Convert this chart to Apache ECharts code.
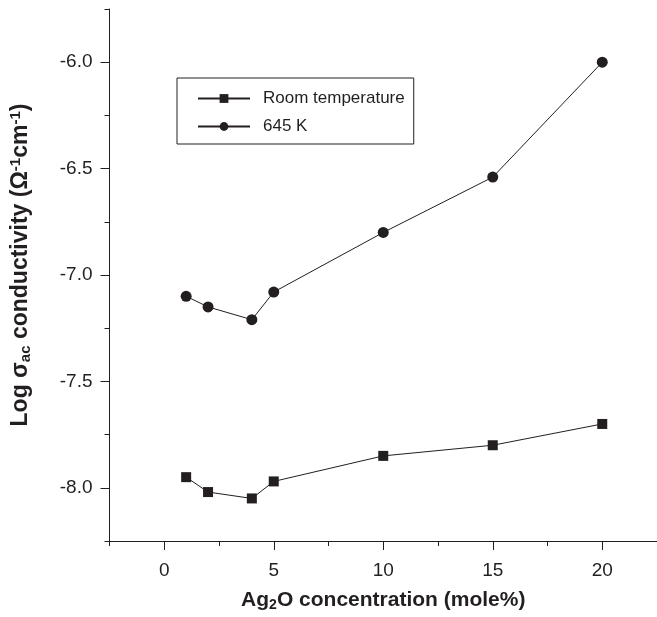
<!DOCTYPE html>
<html>
<head>
<meta charset="utf-8">
<script src="https://cdn.jsdelivr.net/npm/echarts@6/dist/echarts.min.js"></script>
<style>
html,body{margin:0;padding:0;background:#fff;}
#chart{width:657px;height:617px;}
</style>
</head>
<body>
<div id="chart"></div>
<script>
// Data
var concentration = [1, 2, 4, 5, 10, 15, 20];
var roomTemp = [-7.95, -8.02, -8.05, -7.97, -7.85, -7.80, -7.70];
var k645 = [-7.10, -7.15, -7.21, -7.08, -6.80, -6.54, -6.00];
var seriesNames = ['Room temperature', '645 K'];
var xMajorTicks = [0, 5, 10, 15, 20];
var xMinorTicks = [-2.5, 2.5, 7.5, 12.5, 17.5, 22.5];
var yMajorTicks = [-8.0, -7.5, -7.0, -6.5, -6.0];
var yMinorTicks = [-8.25, -7.75, -7.25, -6.75, -6.25, -5.75];

function pairs(xs, ys) { return xs.map(function (x, i) { return [x, ys[i]]; }); }

var FONT = '"Liberation Sans", Arial, Helvetica, sans-serif';
var INK = '#231f20';

var chart = echarts.init(document.getElementById('chart'), null, {renderer: 'canvas'});
var option = {
  backgroundColor: '#fff',
  animation: false,
  textStyle: {fontFamily: FONT, color: INK},
  grid: {left: 109, top: 9, right: -1, bottom: 74, containLabel: false},
  legend: {
    orient: 'vertical',
    left: 177, top: 78,
    padding: [12, 9, 9, 20],
    borderColor: INK, borderWidth: 1,
    itemWidth: 52, itemHeight: 11, itemGap: 11,
    textStyle: {fontSize: 17, color: INK, fontFamily: FONT, padding: [0, 0, 0, 8]},
    data: seriesNames
  },
  xAxis: [{
    type: 'value', min: -2.5, max: 22.5, position: 'bottom',
    name: '{a|Ag}{s|2}{a|O concentration (mole%)}',
    nameLocation: 'middle', nameGap: 47,
    nameTextStyle: {
      fontSize: 21, fontWeight: 'bold', color: INK, fontFamily: FONT,
      rich: {
        a: {fontSize: 21, fontWeight: 'bold', color: INK, fontFamily: FONT},
        s: {fontSize: 14, fontWeight: 'bold', color: INK, fontFamily: FONT, padding: [10, 0, 0, 0]}
      }
    },
    axisLine: {show: true, onZero: false, lineStyle: {color: INK, width: 1}},
    axisTick: {show: true, customValues: xMajorTicks, length: 9, lineStyle: {color: INK}},
    axisLabel: {show: true, customValues: xMajorTicks, margin: 20, fontSize: 19, color: INK, fontFamily: FONT},
    splitLine: {show: false}
  }, {
    type: 'value', min: -2.5, max: 22.5, position: 'bottom', gridIndex: 0,
    axisLine: {show: false, onZero: false},
    axisTick: {show: true, customValues: xMinorTicks, length: 5, lineStyle: {color: INK}},
    axisLabel: {show: false},
    splitLine: {show: false}
  }],
  yAxis: [{
    type: 'value', min: -8.25, max: -5.75, position: 'left',
    name: '{a|Log σ}{s|ac}{a| conductivity (Ω}{p|-1}{a|cm}{p|-1}{a|)}',
    nameLocation: 'middle', nameGap: 76, nameRotate: 90,
    nameTextStyle: {
      fontSize: 23, fontWeight: 'bold', color: INK, fontFamily: FONT,
      padding: [0, 0, 0, 20],
      rich: {
        a: {fontSize: 23, fontWeight: 'bold', color: INK, fontFamily: FONT},
        s: {fontSize: 15, fontWeight: 'bold', color: INK, fontFamily: FONT, padding: [11, 0, 0, 0]},
        p: {fontSize: 15, fontWeight: 'bold', color: INK, fontFamily: FONT, padding: [0, 0, 10, 0]}
      }
    },
    axisLine: {show: true, onZero: false, lineStyle: {color: INK, width: 1}},
    axisTick: {show: true, customValues: yMajorTicks, length: 9, lineStyle: {color: INK}},
    axisLabel: {
      show: true, customValues: yMajorTicks, margin: 17, fontSize: 19, color: INK, fontFamily: FONT,
      formatter: function (v) { return v.toFixed(1); }
    },
    splitLine: {show: false}
  }, {
    type: 'value', min: -8.25, max: -5.75, position: 'left', gridIndex: 0,
    axisLine: {show: false, onZero: false},
    axisTick: {show: true, customValues: yMinorTicks, length: 5, lineStyle: {color: INK}},
    axisLabel: {show: false},
    splitLine: {show: false}
  }],
  series: [{
    name: seriesNames[0], type: 'line', xAxisIndex: 0, yAxisIndex: 0,
    data: pairs(concentration, roomTemp),
    symbol: 'rect', symbolSize: 10,
    lineStyle: {color: INK, width: 1},
    itemStyle: {color: INK},
    emphasis: {disabled: true}
  }, {
    name: seriesNames[1], type: 'line', xAxisIndex: 0, yAxisIndex: 0,
    data: pairs(concentration, k645),
    symbol: 'circle', symbolSize: 11,
    lineStyle: {color: INK, width: 1},
    itemStyle: {color: INK},
    emphasis: {disabled: true}
  }]
};
chart.setOption(option);
</script>
</body>
</html>
